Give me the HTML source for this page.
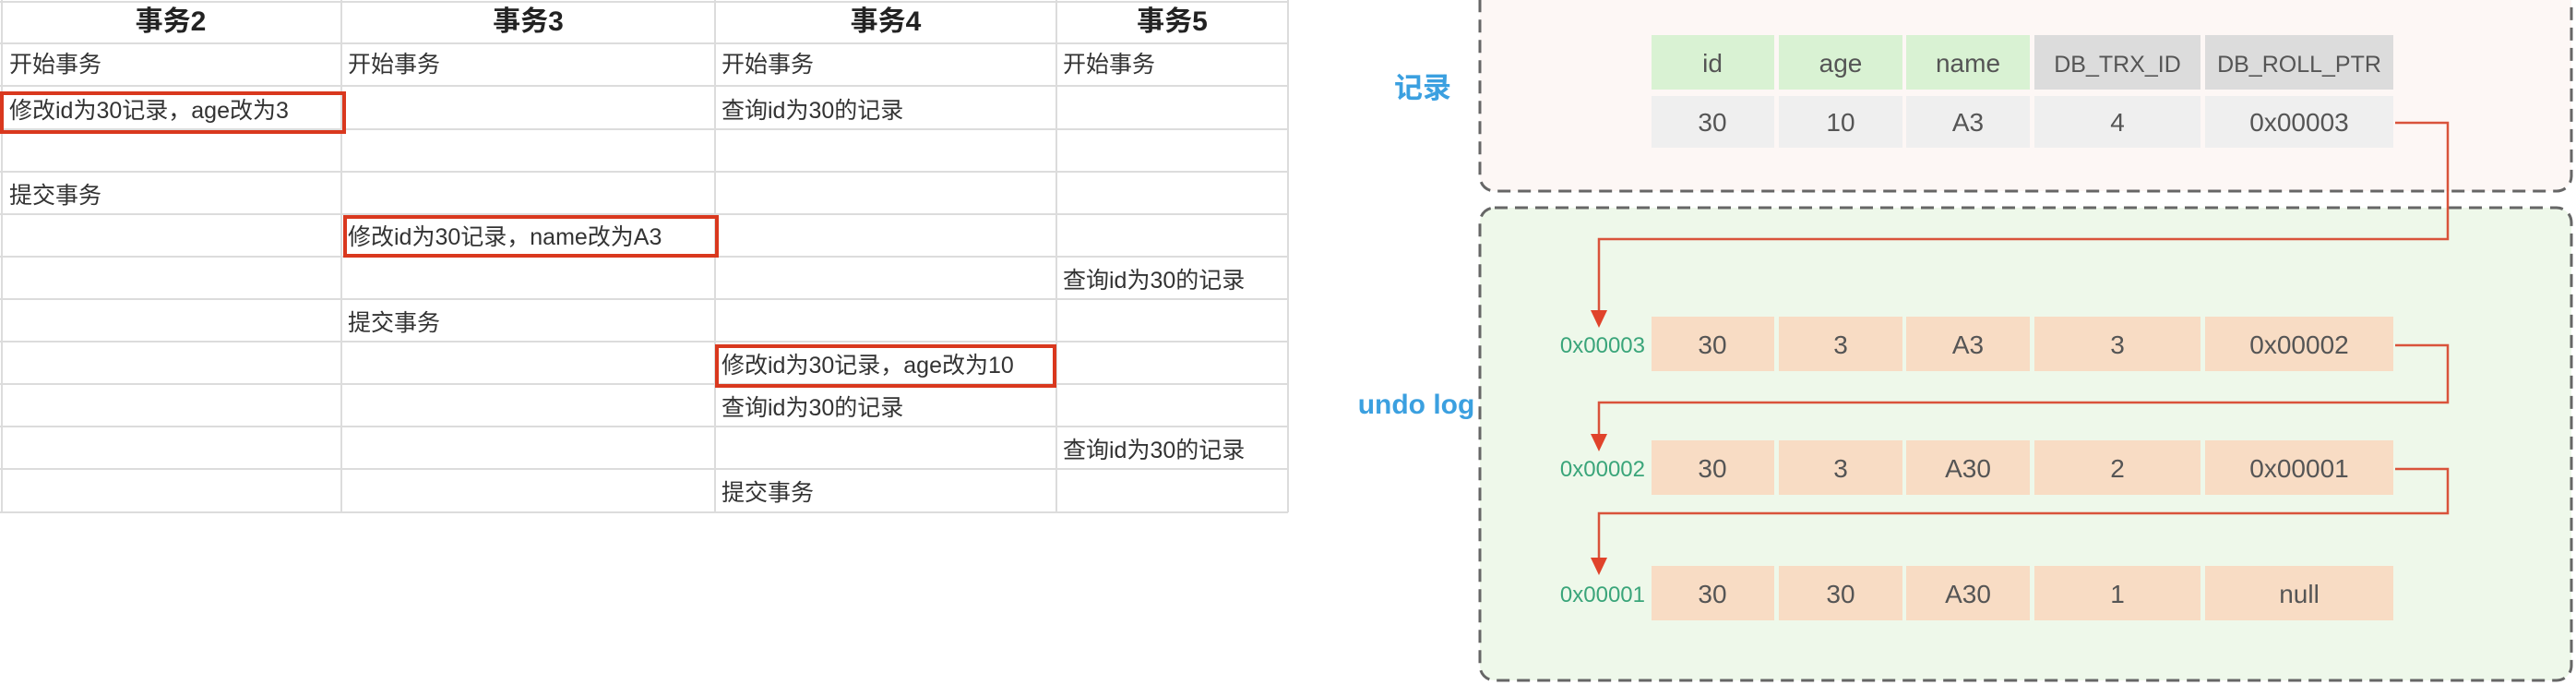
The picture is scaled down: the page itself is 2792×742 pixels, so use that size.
<!DOCTYPE html>
<html><head><meta charset="utf-8"><style>
html,body{margin:0;padding:0;width:2792px;height:742px;background:#fff;overflow:hidden}
.t{position:absolute;font-family:"Liberation Sans","Noto Sans CJK SC",sans-serif;font-size:25px;color:#333;white-space:nowrap;line-height:46px}
.h{font-weight:bold;font-size:30px;color:#222;text-align:center;line-height:47px}
.r{position:absolute;border:4px solid #d9381e;box-sizing:border-box}
</style></head><body>
<svg width="1400" height="560" style="position:absolute;left:0;top:0">
<g stroke="#dcdcdc" stroke-width="2">
<line x1="2" y1="0" x2="2" y2="555"/><line x1="370" y1="0" x2="370" y2="555"/><line x1="775" y1="0" x2="775" y2="555"/><line x1="1145" y1="0" x2="1145" y2="555"/><line x1="1396" y1="0" x2="1396" y2="555"/>
<line x1="0" y1="2" x2="1396" y2="2"/><line x1="0" y1="47" x2="1396" y2="47"/><line x1="0" y1="93" x2="1396" y2="93"/><line x1="0" y1="140" x2="1396" y2="140"/><line x1="0" y1="186" x2="1396" y2="186"/><line x1="0" y1="232" x2="1396" y2="232"/><line x1="0" y1="278" x2="1396" y2="278"/><line x1="0" y1="324" x2="1396" y2="324"/><line x1="0" y1="370" x2="1396" y2="370"/><line x1="0" y1="416" x2="1396" y2="416"/><line x1="0" y1="462" x2="1396" y2="462"/><line x1="0" y1="508" x2="1396" y2="508"/><line x1="0" y1="555" x2="1396" y2="555"/>
</g></svg>
<div class="t h" style="left:0;top:0;width:370px">事务2</div>
<div class="t h" style="left:370px;top:0;width:405px">事务3</div>
<div class="t h" style="left:775px;top:0;width:370px">事务4</div>
<div class="t h" style="left:1145px;top:0;width:251px">事务5</div>
<div class="t" style="left:10px;top:47px">开始事务</div>
<div class="t" style="left:377px;top:47px">开始事务</div>
<div class="t" style="left:782px;top:47px">开始事务</div>
<div class="t" style="left:1152px;top:47px">开始事务</div>
<div class="t" style="left:10px;top:97px">修改id为30记录，age改为3</div>
<div class="t" style="left:782px;top:97px">查询id为30的记录</div>
<div class="t" style="left:10px;top:189px">提交事务</div>
<div class="t" style="left:377px;top:234px">修改id为30记录，name改为A3</div>
<div class="t" style="left:1152px;top:281px">查询id为30的记录</div>
<div class="t" style="left:377px;top:327px">提交事务</div>
<div class="t" style="left:782px;top:373px">修改id为30记录，age改为10</div>
<div class="t" style="left:782px;top:419px">查询id为30的记录</div>
<div class="t" style="left:1152px;top:465px">查询id为30的记录</div>
<div class="t" style="left:782px;top:511px">提交事务</div>
<div class="r" style="left:0;top:99px;width:375px;height:46px"></div>
<div class="r" style="left:372px;top:233px;width:407px;height:46px"></div>
<div class="r" style="left:775px;top:373px;width:370px;height:47px"></div>

<svg width="2792" height="742" style="position:absolute;left:0;top:0" font-family="Liberation Sans, Noto Sans CJK SC, sans-serif">
<rect x="1604" y="-20" width="1183" height="227" rx="16" fill="#fdf7f5" stroke="#666" stroke-width="3" stroke-dasharray="14,8"/>
<rect x="1604" y="225" width="1183" height="512" rx="16" fill="#eef8ea" stroke="#666" stroke-width="3" stroke-dasharray="14,8"/>
<text x="1542" y="106" fill="#3ba0e0" font-size="31" font-weight="bold" text-anchor="middle">记录</text>
<text x="1535" y="448" fill="#3ba0e0" font-size="30" font-weight="bold" text-anchor="middle">undo log</text>
<g font-size="28" fill="#555" text-anchor="middle">
<rect x="1790" y="38" width="133" height="59" fill="#d9f2d3"/><rect x="1928" y="38" width="134" height="59" fill="#d9f2d3"/><rect x="2066" y="38" width="134" height="59" fill="#d9f2d3"/><rect x="2205" y="38" width="180" height="59" fill="#dcdcdc"/><rect x="2390" y="38" width="204" height="59" fill="#dcdcdc"/>
<text x="1856" y="78">id</text><text x="1995" y="78">age</text><text x="2133" y="78">name</text><text x="2295" y="78" font-size="25">DB_TRX_ID</text><text x="2492" y="78" font-size="25">DB_ROLL_PTR</text>
<rect x="1790" y="104" width="133" height="56" fill="#efefef"/><rect x="1928" y="104" width="134" height="56" fill="#efefef"/><rect x="2066" y="104" width="134" height="56" fill="#efefef"/><rect x="2205" y="104" width="180" height="56" fill="#efefef"/><rect x="2390" y="104" width="204" height="56" fill="#efefef"/>
<text x="1856" y="142">30</text><text x="1995" y="142">10</text><text x="2133" y="142">A3</text><text x="2295" y="142">4</text><text x="2492" y="142">0x00003</text>
<g fill="#f8dcc4">
<rect x="1790" y="343" width="133" height="59"/><rect x="1928" y="343" width="134" height="59"/><rect x="2066" y="343" width="134" height="59"/><rect x="2205" y="343" width="180" height="59"/><rect x="2390" y="343" width="204" height="59"/>
<rect x="1790" y="477" width="133" height="59"/><rect x="1928" y="477" width="134" height="59"/><rect x="2066" y="477" width="134" height="59"/><rect x="2205" y="477" width="180" height="59"/><rect x="2390" y="477" width="204" height="59"/>
<rect x="1790" y="613" width="133" height="59"/><rect x="1928" y="613" width="134" height="59"/><rect x="2066" y="613" width="134" height="59"/><rect x="2205" y="613" width="180" height="59"/><rect x="2390" y="613" width="204" height="59"/>
</g>
<text x="1856" y="383">30</text><text x="1995" y="383">3</text><text x="2133" y="383">A3</text><text x="2295" y="383">3</text><text x="2492" y="383">0x00002</text>
<text x="1856" y="517">30</text><text x="1995" y="517">3</text><text x="2133" y="517">A30</text><text x="2295" y="517">2</text><text x="2492" y="517">0x00001</text>
<text x="1856" y="653">30</text><text x="1995" y="653">30</text><text x="2133" y="653">A30</text><text x="2295" y="653">1</text><text x="2492" y="653">null</text>
</g>
<g font-size="24" fill="#3aa57a" text-anchor="end">
<text x="1783" y="382">0x00003</text><text x="1783" y="516">0x00002</text><text x="1783" y="652">0x00001</text>
</g>
<g fill="none" stroke="#d9533b" stroke-width="2.5">
<polyline points="2596,133 2653,133 2653,259 1733,259 1733,336"/>
<polyline points="2596,374 2653,374 2653,436 1733,436 1733,470"/>
<polyline points="2596,508 2653,508 2653,556 1733,556 1733,604"/>
</g>
<g fill="#e0432b">
<polygon points="1724,336 1742,336 1733,355"/>
<polygon points="1724,470 1742,470 1733,489"/>
<polygon points="1724,604 1742,604 1733,623"/>
</g>
</svg>
</body></html>
